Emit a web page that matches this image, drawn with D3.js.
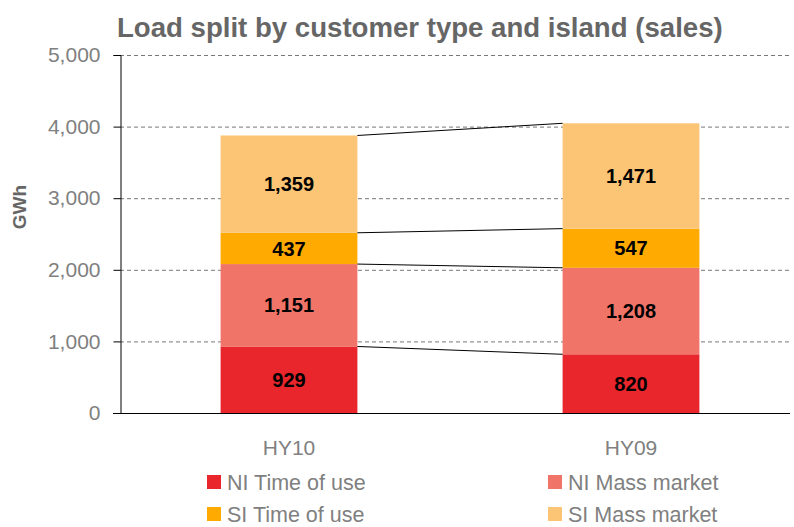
<!DOCTYPE html>
<html>
<head>
<meta charset="utf-8">
<script src="https://cdn.jsdelivr.net/npm/d3@7"></script>
<style>
body { margin: 0; background: #fff; }
text { font-family: "Liberation Sans", Arial, sans-serif; }
</style>
</head>
<body>
<script>
// data
var periods = ["HY10", "HY09"];
var seriesNames = ["NI Time of use", "NI Mass market", "SI Time of use", "SI Mass market"];
var niTimeOfUse = [929, 820];
var niMassMarket = [1151, 1208];
var siTimeOfUse = [437, 547];
var siMassMarket = [1359, 1471];
var yTicks = [0, 1000, 2000, 3000, 4000, 5000];
var colors = ["#E8262B", "#F07468", "#FFAA00", "#FBC575"];

var W = 794, H = 527;
var svg = d3.select("body").append("svg")
  .attr("width", W)
  .attr("height", H);

// build rows for stack
var rows = periods.map(function(p, i) {
  return { period: p, 0: niTimeOfUse[i], 1: niMassMarket[i], 2: siTimeOfUse[i], 3: siMassMarket[i] };
});
var stack = d3.stack().keys([0, 1, 2, 3]);
var layers = stack(rows);

var x = d3.scaleBand()
  .domain(periods)
  .range([118, 802])
  .paddingInner(0.6)
  .paddingOuter(0.3);

var y = d3.scaleLinear()
  .domain([0, 5000])
  .range([413, 55]);

var left = 120, right = 790;

// gridlines
svg.append("g").selectAll("line")
  .data(yTicks.filter(function(d) { return d > 0; }))
  .enter().append("line")
  .attr("x1", left).attr("x2", right)
  .attr("y1", function(d) { return y(d) + 0.5; })
  .attr("y2", function(d) { return y(d) + 0.5; })
  .attr("stroke", "#777")
  .attr("stroke-width", 1)
  .attr("stroke-dasharray", "4,3");

// bars
var layer = svg.append("g").selectAll("g")
  .data(layers)
  .enter().append("g")
  .attr("fill", function(d, i) { return colors[i]; });

layer.selectAll("rect")
  .data(function(d) { return d; })
  .enter().append("rect")
  .attr("x", function(d) { return x(d.data.period); })
  .attr("width", x.bandwidth())
  .attr("y", function(d) { return y(d[1]); })
  .attr("height", function(d) { return y(d[0]) - y(d[1]); });

// value labels
layer.selectAll("text")
  .data(function(d) { return d; })
  .enter().append("text")
  .attr("x", function(d) { return x(d.data.period) + x.bandwidth() / 2; })
  .attr("y", function(d) { return (y(d[0]) + y(d[1])) / 2; })
  .attr("dy", "0.36em")
  .attr("text-anchor", "middle")
  .attr("fill", "#000")
  .style("font-size", "20px")
  .style("font-weight", "bold")
  .text(function(d) { return d3.format(",")(d[1] - d[0]); });

// connector lines between bar tops
svg.append("g").selectAll("line")
  .data(layers)
  .enter().append("line")
  .attr("x1", x(periods[0]) + x.bandwidth())
  .attr("x2", x(periods[1]))
  .attr("y1", function(d) { return y(d[0][1]); })
  .attr("y2", function(d) { return y(d[1][1]); })
  .attr("stroke", "#000")
  .attr("stroke-width", 1);

// y axis
var yAxis = d3.axisLeft(y)
  .tickValues(yTicks)
  .tickFormat(d3.format(","))
  .tickSize(7)
  .tickPadding(13);

var ya = svg.append("g")
  .attr("transform", "translate(" + (left + 0.5) + ",0)")
  .call(yAxis);
ya.select(".domain").attr("stroke", "#000");
ya.selectAll(".tick line").attr("stroke", "#000");
ya.selectAll(".tick text")
  .attr("fill", "#808080")
  .style("font-size", "21px")
  .style("font-family", "Liberation Sans, Arial, sans-serif");

// x axis baseline
svg.append("line")
  .attr("x1", left - 7).attr("x2", right)
  .attr("y1", y(0) + 0.5).attr("y2", y(0) + 0.5)
  .attr("stroke", "#000");

// x labels
svg.append("g").selectAll("text")
  .data(periods)
  .enter().append("text")
  .attr("x", function(d) { return x(d) + x.bandwidth() / 2; })
  .attr("y", 455)
  .attr("text-anchor", "middle")
  .attr("fill", "#808080")
  .style("font-size", "21px")
  .text(function(d) { return d; });

// y label
svg.append("text")
  .attr("transform", "translate(26,207) rotate(-90)")
  .attr("text-anchor", "middle")
  .attr("fill", "#666")
  .style("font-size", "19px")
  .style("font-weight", "bold")
  .text("GWh");

// title
svg.append("text")
  .attr("x", 117)
  .attr("y", 37)
  .attr("fill", "#666")
  .style("font-size", "27.6px")
  .style("font-weight", "bold")
  .text("Load split by customer type and island (sales)");

// legend
var legendPos = [[207, 482], [548, 482], [207, 514], [548, 514]];
var lg = svg.append("g").selectAll("g")
  .data(seriesNames)
  .enter().append("g")
  .attr("transform", function(d, i) { return "translate(" + legendPos[i][0] + "," + legendPos[i][1] + ")"; });

lg.append("rect")
  .attr("x", 0).attr("y", -7)
  .attr("width", 14).attr("height", 14)
  .attr("fill", function(d, i) { return colors[i]; });

lg.append("text")
  .attr("x", 20)
  .attr("dy", "0.36em")
  .attr("fill", "#808080")
  .style("font-size", "21.5px")
  .text(function(d) { return d; });
</script>
</body>
</html>
